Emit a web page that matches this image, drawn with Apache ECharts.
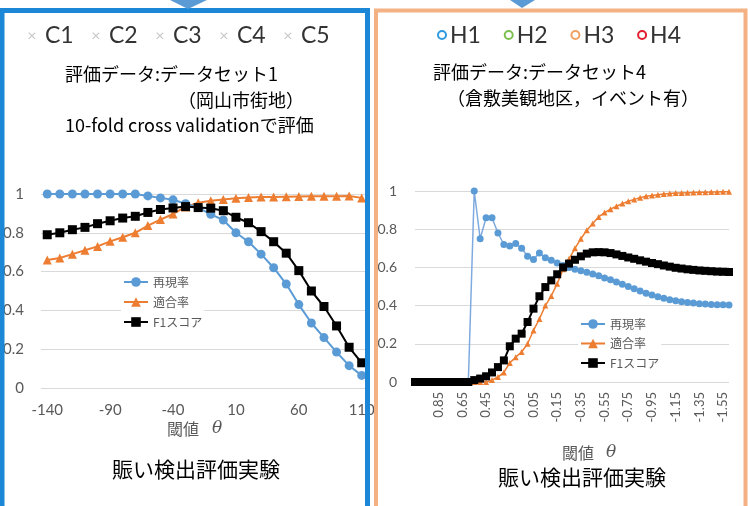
<!DOCTYPE html>
<html>
<head>
<meta charset="utf-8">
<script src="https://cdn.jsdelivr.net/npm/echarts@6/dist/echarts.min.js"></script>
<style>
  html, body { margin: 0; padding: 0; background: #fff; }
  #main { width: 748px; height: 506px; }
</style>
</head>
<body>
<div id="main"></div>
<script>
// 左：データセット1（岡山市街地）
var thetaL = [-140, -130, -120, -110, -100, -90, -80, -70, -60, -50, -40, -30, -20, -10, 0, 10, 20, 30, 40, 50, 60, 70, 80, 90, 100, 110];
var recallL = [1, 1, 1, 1, 1, 1, 1, 1, 0.99, 0.98, 0.97, 0.95, 0.93, 0.895, 0.866, 0.8, 0.754, 0.69, 0.62, 0.536, 0.43, 0.335, 0.26, 0.185, 0.115, 0.065];
var precisionL = [0.66, 0.67, 0.69, 0.71, 0.73, 0.756, 0.777, 0.8, 0.837, 0.868, 0.897, 0.933, 0.955, 0.965, 0.972, 0.978, 0.982, 0.984, 0.985, 0.986, 0.987, 0.988, 0.988, 0.989, 0.99, 0.98];
var f1L = [0.79, 0.8, 0.816, 0.828, 0.847, 0.862, 0.876, 0.885, 0.905, 0.92, 0.928, 0.935, 0.93, 0.927, 0.914, 0.88, 0.852, 0.806, 0.754, 0.695, 0.605, 0.5, 0.42, 0.32, 0.21, 0.13];

// 右：データセット4（倉敷美観地区，イベント有）
var thetaR = [1.05, 1, 0.95, 0.9, 0.85, 0.8, 0.75, 0.7, 0.65, 0.6, 0.55, 0.5, 0.45, 0.4, 0.35, 0.3, 0.25, 0.2, 0.15, 0.1, 0.05, 0,
  -0.05, -0.1, -0.15, -0.2, -0.25, -0.3, -0.35, -0.4, -0.45, -0.5, -0.55, -0.6, -0.65, -0.7, -0.75, -0.8, -0.85, -0.9, -0.95, -1,
  -1.05, -1.1, -1.15, -1.2, -1.25, -1.3, -1.35, -1.4, -1.45, -1.5, -1.55, -1.6];
var recallR = [0, 0, 0, 0, 0, 0, 0, 0, 0, 0, 1, 0.75, 0.86, 0.86, 0.78, 0.72, 0.712, 0.725, 0.7, 0.658, 0.642, 0.675, 0.65, 0.637,
  0.623, 0.61, 0.6, 0.59, 0.583, 0.575, 0.566, 0.556, 0.545, 0.535, 0.524, 0.512, 0.5, 0.488, 0.476, 0.465, 0.455, 0.446, 0.438,
  0.431, 0.425, 0.42, 0.416, 0.413, 0.41, 0.408, 0.406, 0.405, 0.404, 0.403];
var precisionR = [0, 0, 0, 0, 0, 0, 0, 0, 0, 0, 0, 0, 0, 0.01, 0.026, 0.05, 0.1, 0.13, 0.157, 0.2, 0.27, 0.33, 0.4, 0.45, 0.515,
  0.59, 0.645, 0.7, 0.75, 0.795, 0.83, 0.864, 0.887, 0.905, 0.92, 0.934, 0.946, 0.956, 0.965, 0.972, 0.977, 0.98, 0.984, 0.987,
  0.989, 0.99, 0.991, 0.992, 0.993, 0.994, 0.995, 0.995, 0.996, 0.996];
var f1R = [0, 0, 0, 0, 0, 0, 0, 0, 0, 0, 0.01, 0.018, 0.03, 0.05, 0.078, 0.113, 0.187, 0.227, 0.253, 0.314, 0.384, 0.449, 0.497,
  0.532, 0.564, 0.6, 0.62, 0.64, 0.658, 0.672, 0.679, 0.68, 0.679, 0.675, 0.668, 0.66, 0.652, 0.645, 0.637, 0.63, 0.623, 0.617,
  0.61, 0.604, 0.598, 0.594, 0.59, 0.587, 0.584, 0.582, 0.58, 0.578, 0.577, 0.576];

var seriesNames = ['再現率', '適合率', 'F1スコア'];
var topLegendL = ['C1', 'C2', 'C3', 'C4', 'C5'];
var topLegendR = ['H1', 'H2', 'H3', 'H4'];
var topLegendRColors = ['#2e9be0', '#7cbf4f', '#f0a162', '#e0202e'];

var BLUE = '#5b9bd5', ORANGE = '#ed7d31', BLACK = '#000';
var JP = '"Noto Sans CJK JP", sans-serif';
var NUM = 'Lato, "Noto Sans", sans-serif';

var chart = echarts.init(document.getElementById('main'));

function txt(x, y, s, font, fill, align) {
  return {
    type: 'text', z: 50, x: x, y: y,
    style: { text: s, font: font, fill: fill || '#000', textAlign: align || 'left', textVerticalAlign: 'middle' }
  };
}

var graphics = [];
// 上部の凡例（スライドの飾り）
topLegendL.forEach(function (n, i) {
  graphics.push(txt(32 + i * 64, 36, '×', '16px ' + NUM, '#c8c8c8', 'center'));
  graphics.push(txt(45 + i * 64, 36, n, '23px ' + NUM, '#333'));
});
topLegendR.forEach(function (n, i) {
  graphics.push({
    type: 'circle', z: 50, shape: { cx: 442 + i * 66.7, cy: 35, r: 4 },
    style: { fill: 'none', stroke: topLegendRColors[i], lineWidth: 2 }
  });
  graphics.push(txt(450 + i * 66.7, 36, n, '23px ' + NUM, '#333'));
});
// タイトル
graphics.push(txt(65, 74, '評価データ:データセット1', '18px ' + JP));
graphics.push(txt(178, 100, '（岡山市街地）', '18px ' + JP));
graphics.push(txt(65, 125, '10-fold cross validationで評価', '18px ' + JP));
graphics.push(txt(433, 72, '評価データ:データセット4', '18px ' + JP));
graphics.push(txt(447, 98, '（倉敷美観地区，イベント有）', '18px ' + JP));
// 軸タイトル
graphics.push(txt(167, 429, '閾値', '16px ' + JP, '#595959'));
graphics.push(txt(212, 429, 'θ', 'italic 17px "DejaVu Serif", serif', '#595959'));
graphics.push(txt(562, 453, '閾値', '16px ' + JP, '#595959'));
graphics.push(txt(606, 453, 'θ', 'italic 17px "DejaVu Serif", serif', '#595959'));
graphics.push(txt(196, 469, '賑い検出評価実験', '21px ' + JP, '#000', 'center'));
graphics.push(txt(582, 477, '賑い検出評価実験', '21px ' + JP, '#000', 'center'));
// 枠
graphics.push({ type: 'rect', z: 100, shape: { x: 2, y: 10.5, width: 365.5, height: 520 },
  style: { fill: 'none', stroke: '#1b87d6', lineWidth: 5 } });
graphics.push({ type: 'rect', z: 100, shape: { x: 376, y: 10.5, width: 369.5, height: 520 },
  style: { fill: 'none', stroke: '#f4b183', lineWidth: 4 } });
graphics.push({ type: 'polygon', z: 101, shape: { points: [[170, 0], [207, 0], [188, 9]] }, style: { fill: BLUE } });
graphics.push({ type: 'polygon', z: 101, shape: { points: [[510, 0], [535, 0], [522, 8]] }, style: { fill: BLUE } });

var axisLabelStyle = { color: '#595959', fontFamily: NUM, fontSize: 15 };

var option = {
  animation: false,
  backgroundColor: '#fff',
  graphic: graphics,
  grid: [
    { left: 37, top: 194, width: 331, height: 194 },
    { left: 415, top: 191, width: 314, height: 191 }
  ],
  legend: [
    {
      left: 121, top: 276, orient: 'vertical', itemWidth: 24, itemHeight: 12, itemGap: 8,
      backgroundColor: '#fff', padding: [0, 2],
      textStyle: { fontFamily: JP, fontSize: 12, color: '#595959' },
      data: seriesNames
    },
    {
      left: 578, top: 318, orient: 'vertical', itemWidth: 24, itemHeight: 12, itemGap: 7.5,
      backgroundColor: '#fff', padding: [0, 2],
      textStyle: { fontFamily: JP, fontSize: 12, color: '#595959' },
      data: seriesNames
    }
  ],
  xAxis: [
    {
      type: 'category', gridIndex: 0, data: thetaL, boundaryGap: true,
      axisLine: { show: false }, axisTick: { show: false },
      axisLabel: Object.assign({ interval: 4, margin: 15 }, axisLabelStyle)
    },
    {
      type: 'category', gridIndex: 1, data: thetaR, boundaryGap: false,
      axisLine: { show: false }, axisTick: { show: false },
      axisLabel: Object.assign({}, axisLabelStyle, {
        fontSize: 13, rotate: 90, margin: 10,
        interval: function (i) { return i > 0 && i % 4 === 0; }
      })
    }
  ],
  yAxis: [
    {
      type: 'value', gridIndex: 0, min: 0, max: 1, interval: 0.2,
      axisLine: { show: false }, axisTick: { show: false },
      splitLine: { lineStyle: { color: '#d9d9d9' } },
      axisLabel: Object.assign({ margin: 17 }, axisLabelStyle)
    },
    {
      type: 'value', gridIndex: 1, min: 0, max: 1, interval: 0.2,
      axisLine: { show: false }, axisTick: { show: false },
      splitLine: { lineStyle: { color: '#d9d9d9' } },
      axisLabel: Object.assign({ margin: 18 }, axisLabelStyle, { fontSize: 14 })
    }
  ],
  series: [
    { name: '再現率', type: 'line', xAxisIndex: 0, yAxisIndex: 0, data: recallL, symbol: 'circle', symbolSize: 9,
      showAllSymbol: true, itemStyle: { color: BLUE }, lineStyle: { color: BLUE, width: 2 }, z: 3 },
    { name: '適合率', type: 'line', xAxisIndex: 0, yAxisIndex: 0, data: precisionL, symbol: 'triangle', symbolSize: 9,
      showAllSymbol: true, itemStyle: { color: ORANGE }, lineStyle: { color: ORANGE, width: 2 }, z: 2 },
    { name: 'F1スコア', type: 'line', xAxisIndex: 0, yAxisIndex: 0, data: f1L, symbol: 'rect', symbolSize: 9,
      showAllSymbol: true, itemStyle: { color: BLACK }, lineStyle: { color: BLACK, width: 2 }, z: 4 },
    { name: '再現率', type: 'line', xAxisIndex: 1, yAxisIndex: 1, data: recallR, symbol: 'circle', symbolSize: 7,
      showAllSymbol: true, itemStyle: { color: BLUE }, lineStyle: { color: '#7faadf', width: 1.5 }, z: 2 },
    { name: '適合率', type: 'line', xAxisIndex: 1, yAxisIndex: 1, data: precisionR, symbol: 'triangle', symbolSize: 6,
      showAllSymbol: true, itemStyle: { color: ORANGE }, lineStyle: { color: ORANGE, width: 1.5 }, z: 3 },
    { name: 'F1スコア', type: 'line', xAxisIndex: 1, yAxisIndex: 1, data: f1R, symbol: 'rect', symbolSize: 8,
      showAllSymbol: true, itemStyle: { color: BLACK }, lineStyle: { color: BLACK, width: 2 }, z: 4 }
  ]
};

chart.setOption(option);
</script>
</body>
</html>
